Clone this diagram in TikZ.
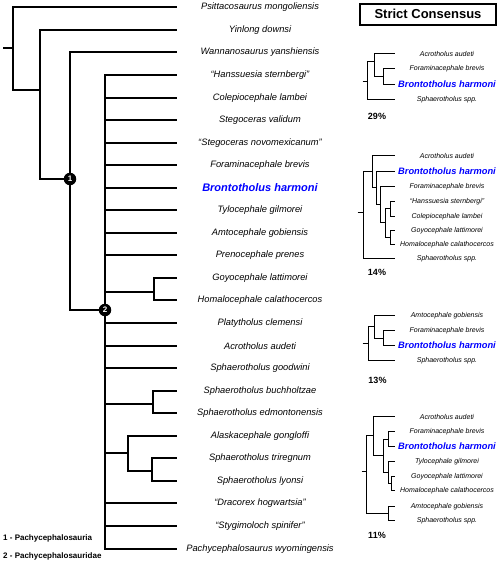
\documentclass[tikz,border=0pt]{standalone}
\usepackage{fontspec}
\setmainfont{Liberation Sans}
\begin{document}
\begin{tikzpicture}[x=1pt,y=-1pt,
  branch/.style={line width=2pt},
  twig/.style={line width=1pt},
  taxon/.style={font=\fontsize{9.3}{10}\selectfont\itshape},
  focal/.style={text=blue,font=\fontsize{11}{12}\selectfont\bfseries\itshape},
  minitaxon/.style={font=\fontsize{7}{8}\selectfont\itshape},
  minifocal/.style={text=blue,font=\fontsize{9.3}{10}\selectfont\bfseries\itshape},
  pct/.style={font=\fontsize{9}{10}\selectfont\bfseries},
  legend/.style={anchor=west,inner sep=0pt,font=\fontsize{8}{9}\selectfont\bfseries},
  clade/.style={circle,fill=black,text=white,inner sep=0pt,minimum size=12.5pt,font=\fontsize{8}{8}\selectfont\bfseries}]
\useasboundingbox (0,0) rectangle (500,563);

% main tree: tips and names
\foreach \sty/\name [count=\i] in {taxon/Psittacosaurus mongoliensis, taxon/Yinlong downsi,
  taxon/Wannanosaurus yanshiensis, taxon/“Hanssuesia sternbergi”, taxon/Colepiocephale lambei,
  taxon/Stegoceras validum, taxon/“Stegoceras novomexicanum”, taxon/Foraminacephale brevis,
  focal/Brontotholus harmoni, taxon/Tylocephale gilmorei, taxon/Amtocephale gobiensis,
  taxon/Prenocephale prenes, taxon/Goyocephale lattimorei, taxon/Homalocephale calathocercos,
  taxon/Platytholus clemensi, taxon/Acrotholus audeti, taxon/Sphaerotholus goodwini,
  taxon/Sphaerotholus buchholtzae, taxon/Sphaerotholus edmontonensis, taxon/Alaskacephale gongloffi,
  taxon/Sphaerotholus triregnum, taxon/Sphaerotholus lyonsi, taxon/“Dracorex hogwartsia”,
  taxon/“Stygimoloch spinifer”, taxon/Pachycephalosaurus wyomingensis}{
  \pgfmathsetmacro\ty{round(7.3+22.55*(\i-1))}
  \coordinate (l\i) at (177,\ty);
  \node[\sty] (t\i) at (260,\ty) {\name};
}

\coordinate (base) at (3,48);
\coordinate (root) at (13,48);
\coordinate (n0) at (40,90);
\coordinate (n1) at (70,179);
\coordinate (n2) at (105,310);
\coordinate (goy) at (154,292);
\coordinate (buc) at (153,404);
\coordinate (ala) at (128,453);
\coordinate (tri) at (152,471);

\draw[branch] (base) -- (root) (root) |- (l1) (root) |- (n0);
\draw[branch] (n0) |- (l2) (n0) |- (n1);
\draw[branch] (n1) |- (l3) (n1) |- (n2);
\foreach \i in {4,...,12,15,16,17,23,24,25}
  \draw[branch] (n2) |- (l\i);
\draw[branch] (n2) |- (goy) (goy) |- (l13) (goy) |- (l14);
\draw[branch] (n2) |- (buc) (buc) |- (l18) (buc) |- (l19);
\draw[branch] (n2) |- (ala) (ala) |- (l20) (ala) |- (tri);
\draw[branch] (tri) |- (l21) (tri) |- (l22);

\node[clade] (c1) at (n1) {1};
\node[clade] (c2) at (n2) {2};

\node[legend] (lg1) at (3,538) {1 - Pachycephalosauria};
\node[legend] (lg2) at (3,556) {2 - Pachycephalosauridae};

% strict consensus
\node[draw,line width=2pt,minimum width=136pt,minimum height=21pt,inner sep=0pt,
  font=\fontsize{13}{14}\selectfont\bfseries] (sc) at (428,14) {Strict Consensus};

% tree 29%
\foreach \sty/\name/\y [count=\i] in {minitaxon/Acrotholus audeti/53.5,
  minitaxon/Foraminacephale brevis/68.5, minifocal/Brontotholus harmoni/84.5,
  minitaxon/Sphaerotholus spp./99.5}{
  \coordinate (a\i) at (395,\y);
  \node[\sty] (ta\i) at (447,\y) {\name};
}
\coordinate (aS) at (362.5,81.5);
\coordinate (aR) at (367.5,81.5);
\coordinate (aA) at (374.5,61.5);
\coordinate (aB) at (383.5,76.5);
\draw[twig] (aS) -- (aR) (aR) |- (aA) (aR) |- (a4) (aA) |- (a1) (aA) |- (aB)
  (aB) |- (a2) (aB) |- (a3);
\node[pct] (pa) at (377,116) {29\%};

% tree 14%
\foreach \sty/\name/\y [count=\i] in {minitaxon/Acrotholus audeti/155.5,
  minifocal/Brontotholus harmoni/171.5, minitaxon/Foraminacephale brevis/186.5,
  minitaxon/“Hanssuesia sternbergi”/201.5, minitaxon/Colepiocephale lambei/216.5,
  minitaxon/Goyocephale lattimorei/230.5, minitaxon/Homalocephale calathocercos/244.5,
  minitaxon/Sphaerotholus spp./258.5}{
  \coordinate (b\i) at (395,\y);
  \node[\sty] (tb\i) at (447,\y) {\name};
}
\coordinate (bS) at (357.5,212.5);
\coordinate (bR) at (363.5,212.5);
\coordinate (bA) at (372.5,171.5);
\coordinate (bB) at (376.5,187.5);
\coordinate (bC) at (380.5,204.5);
\coordinate (bD) at (385.5,222.5);
\coordinate (bH) at (390.5,208.5);
\coordinate (bG) at (390.5,237.5);
\draw[twig] (bS) -- (bR) (bR) |- (bA) (bR) |- (b8) (bA) |- (b1) (bA) |- (bB)
  (bB) |- (b2) (bB) |- (bC) (bC) |- (b3) (bC) |- (bD) (bD) |- (bH) (bD) |- (bG)
  (bH) |- (b4) (bH) |- (b5) (bG) |- (b6) (bG) |- (b7);
\node[pct] (pb) at (377,272) {14\%};

% tree 13%
\foreach \sty/\name/\y [count=\i] in {minitaxon/Amtocephale gobiensis/315.5,
  minitaxon/Foraminacephale brevis/330.5, minifocal/Brontotholus harmoni/345.5,
  minitaxon/Sphaerotholus spp./360.5}{
  \coordinate (c\i) at (395,\y);
  \node[\sty] (tc\i) at (447,\y) {\name};
}
\coordinate (cS) at (362.5,343.5);
\coordinate (cR) at (368.5,343.5);
\coordinate (cA) at (374.5,326.5);
\coordinate (cB) at (383.5,338.5);
\draw[twig] (cS) -- (cR) (cR) |- (cA) (cR) |- (c4) (cA) |- (c1) (cA) |- (cB)
  (cB) |- (c2) (cB) |- (c3);
\node[pct] (pc) at (377.5,380) {13\%};

% tree 11%
\foreach \sty/\name/\y [count=\i] in {minitaxon/Acrotholus audeti/416.5,
  minitaxon/Foraminacephale brevis/431.5, minifocal/Brontotholus harmoni/446.5,
  minitaxon/Tylocephale gilmorei/461.5, minitaxon/Goyocephale lattimorei/476.5,
  minitaxon/Homalocephale calathocercos/490.5, minitaxon/Amtocephale gobiensis/506.5,
  minitaxon/Sphaerotholus spp./520.5}{
  \coordinate (d\i) at (395,\y);
  \node[\sty] (td\i) at (447,\y) {\name};
}
\coordinate (dS) at (361.5,471.5);
\coordinate (dR) at (366.5,471.5);
\coordinate (dA) at (373.5,435.5);
\coordinate (dB) at (383.5,455.5);
\coordinate (dF) at (388.5,439.5);
\coordinate (dT) at (388.5,472.5);
\coordinate (dG) at (391.5,483.5);
\coordinate (dE) at (388.5,513.5);
\draw[twig] (dS) -- (dR) (dR) |- (dA) (dR) |- (dE) (dA) |- (d1) (dA) |- (dB)
  (dB) |- (dF) (dB) |- (dT) (dF) |- (d2) (dF) |- (d3) (dT) |- (d4) (dT) |- (dG)
  (dG) |- (d5) (dG) |- (d6) (dE) |- (d7) (dE) |- (d8);
\node[pct] (pd) at (377,535) {11\%};
\end{tikzpicture}
\end{document}
